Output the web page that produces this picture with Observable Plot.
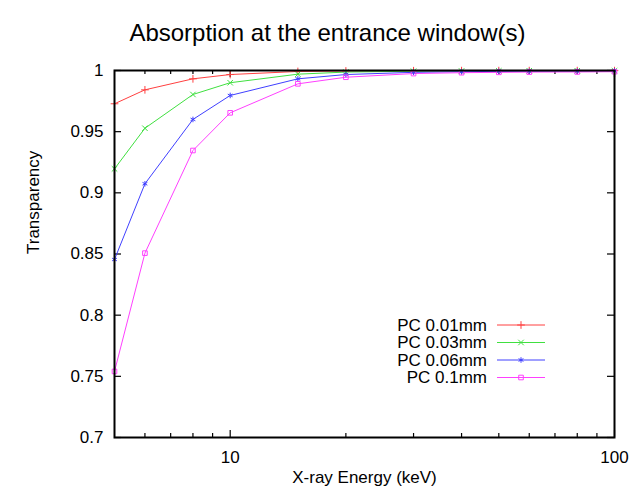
<!DOCTYPE html>
<html><head><meta charset="utf-8">
<script src="https://cdn.jsdelivr.net/npm/d3@7"></script>
<script src="https://cdn.jsdelivr.net/npm/@observablehq/plot@0.6"></script>
<style>body{margin:0;background:#fff} svg{display:block}</style>
</head><body><div id="chart"></div>
<script>
const energies = [5, 6, 8, 10, 15, 20, 30, 40, 50, 60, 80, 100];
const seriesNames = ["PC 0.01mm", "PC 0.03mm", "PC 0.06mm", "PC 0.1mm"];
const pc001 = [0.9728, 0.9842, 0.9932, 0.9967, 0.9992, 0.9996, 0.9998, 0.9999, 0.9999, 0.9999, 0.9999, 0.9999];
const pc003 = [0.9196, 0.9528, 0.9804, 0.9900, 0.9970, 0.9987, 0.9994, 0.9996, 0.9997, 0.9998, 0.9998, 0.9998];
const pc006 = [0.8455, 0.9074, 0.9600, 0.9796, 0.9932, 0.9967, 0.9985, 0.9990, 0.9993, 0.9994, 0.9995, 0.9996];
const pc01  = [0.7540, 0.8507, 0.9346, 0.9654, 0.9891, 0.9945, 0.9975, 0.9982, 0.9985, 0.9987, 0.9988, 0.9990];
const seriesValues = [pc001, pc003, pc006, pc01];
const xMajorTicks = [10, 100];
const xMinorTicks = [6, 7, 8, 9, 20, 30, 40, 50, 60, 70, 80, 90];
const yTicks = [0.7, 0.75, 0.8, 0.85, 0.9, 0.95, 1];
const colors = ["#ff4040", "#40e040", "#4040ff", "#ff40ff"];
const plotSymbols = ["plus", "times", "asterisk", "square"];
const d3Symbols = [d3.symbolPlus, d3.symbolTimes, d3.symbolAsterisk, d3.symbolSquare];
const title = "Absorption at the entrance window(s)";
const xLabel = "X-ray Energy (keV)";
const yLabel = "Transparency";

const rows = seriesNames.flatMap((name, i) =>
  energies.map((e, j) => ({series: name, energy: e, value: seriesValues[i][j]})));

const FONT = "'Liberation Sans', Arial, Helvetica, sans-serif";
const W = 643, H = 493, ML = 114, MR = 29, MT = 70, MB = 56;
const FW = W - ML - MR, FH = H - MT - MB;
const R = 2.6;

function legend() {
  const g = d3.create("svg:g").attr("font-family", FONT).attr("font-size", 17);
  seriesNames.forEach((name, i) => {
    const y = 325 + i * 17.5;
    g.append("text").attr("x", 487).attr("y", y).attr("dy", "0.35em")
      .attr("text-anchor", "end").attr("fill", "#000").text(name);
    g.append("line").attr("x1", 497).attr("x2", 545).attr("y1", y).attr("y2", y)
      .attr("stroke", colors[i]).attr("stroke-width", 1);
    g.append("path").attr("transform", `translate(521,${y})`)
      .attr("d", d3.symbol(d3Symbols[i], Math.PI * R * R)())
      .attr("fill", "none").attr("stroke", colors[i]).attr("stroke-width", 1);
  });
  return g.node();
}

const chart = Plot.plot({
  width: W, height: H,
  marginLeft: ML, marginRight: MR, marginTop: MT, marginBottom: MB,
  style: {fontFamily: FONT, fontSize: "17px", background: "#fff", color: "#000"},
  x: {type: "log", domain: [5, 100]},
  y: {domain: [0.7, 1]},
  color: {domain: seriesNames, range: colors},
  symbol: {domain: seriesNames, range: plotSymbols},
  marks: [
    Plot.axisX(xMajorTicks, {tickSize: 0, tickPadding: 13, tickFormat: d => String(d), label: null, fontSize: 17}),
    Plot.axisY(yTicks, {tickSize: 0, tickPadding: 11, tickFormat: d => String(d), label: null, fontSize: 17}),
    // inward ticks (gnuplot style, mirrored)
    Plot.ruleX(xMajorTicks, {x: d => d, insetTop: FH - 7, stroke: "#000", strokeWidth: 1.2}),
    Plot.ruleX(xMajorTicks, {x: d => d, insetBottom: FH - 7, stroke: "#000", strokeWidth: 1.2}),
    Plot.ruleX(xMinorTicks, {x: d => d, insetTop: FH - 4, stroke: "#000", strokeWidth: 1.2}),
    Plot.ruleX(xMinorTicks, {x: d => d, insetBottom: FH - 4, stroke: "#000", strokeWidth: 1.2}),
    Plot.ruleY(yTicks, {y: d => d, insetRight: FW - 7, stroke: "#000", strokeWidth: 1.2}),
    Plot.ruleY(yTicks, {y: d => d, insetLeft: FW - 7, stroke: "#000", strokeWidth: 1.2}),
    Plot.line(rows, {x: "energy", y: "value", z: "series", stroke: "series", strokeWidth: 1}),
    Plot.dot(rows, {x: "energy", y: "value", stroke: "series", symbol: "series", r: R, strokeWidth: 1, fill: "none"}),
    Plot.frame({stroke: "#000", strokeWidth: 2}),
    Plot.text([title], {frameAnchor: "top", dx: -37, dy: -47, fontSize: 24, fill: "#000"}),
    Plot.text([xLabel], {frameAnchor: "bottom", dy: 45, fontSize: 17, fill: "#000"}),
    Plot.text([yLabel], {frameAnchor: "left", dx: -81, rotate: -90, fontSize: 17, fill: "#000"}),
    legend
  ]
});
document.getElementById("chart").appendChild(chart);
</script>
</body></html>
